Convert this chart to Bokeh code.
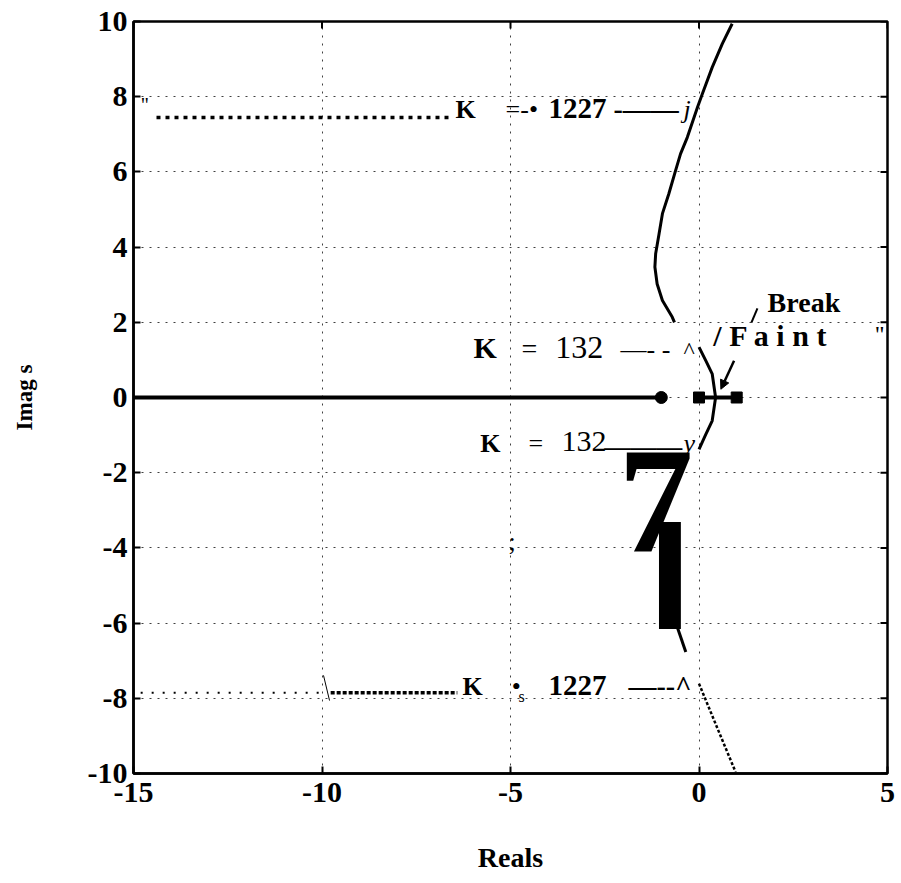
import math
from bokeh.plotting import figure
from bokeh.models import Label, Arrow, NormalHead, FixedTicker
from bokeh.embed import file_html
from bokeh.resources import INLINE

# ---- data ----
x_ticks = [-15, -10, -5, 0, 5]
x_tick_labels = ["-15", "-10", "-5", "0", "5"]
y_ticks = [-10, -8, -6, -4, -2, 0, 2, 4, 6, 8, 10]
y_tick_labels = ["-10", "-8", "-6", "-4", "-2", "0", "2", "4", "6", "8", "10"]

real_locus_left_x = [-15, -1]
real_locus_right_x = [0, 1]
pole_circle_x = [-1]
pole_square_x = [0, 1]

upper_branch_x = [0.88, 0.62, 0.35, 0.09, -0.04, -0.31, -0.49, -0.62, -0.80, -0.97, -1.06, -1.15, -1.17, -1.11, -0.97, -0.71, -0.65]
upper_branch_y = [9.94, 9.41, 8.78, 8.08, 7.72, 6.92, 6.48, 6.04, 5.42, 4.89, 4.35, 3.82, 3.47, 3.02, 2.58, 2.14, 2.00]
break_branch_x = [0.0, 0.18, 0.35, 0.44, 0.35, 0.18, 0.0]
break_branch_y = [1.34, 0.98, 0.63, 0.0, -0.62, -0.98, -1.38]
lower_mid_x = [-0.62, -0.35]
lower_mid_y = [-5.98, -6.77]
lower_branch_x = [0.0, 0.44, 0.97]
lower_branch_y = [-7.61, -8.68, -9.96]

top_leader_x = [-14.39, -6.59]
top_leader_y = [7.45, 7.45]
bottom_leader_sparse_x = [-14.81, -9.91]
bottom_leader_dense_x = [-9.77, -6.41]
bottom_leader_y = [-7.85, -7.85]

SERIF = "Liberation Serif"
PX_PER_Y = 37.6

p = figure(width=901, height=883, x_range=(-15, 5), y_range=(-10, 10),
           output_backend="svg", toolbar_location=None,
           min_border_left=133, min_border_right=14, min_border_top=21, min_border_bottom=110)
p.background_fill_color = "white"
p.border_fill_color = "white"
p.outline_line_color = "black"
p.outline_line_width = 2.5

# axes
for ax in (p.xaxis[0], p.yaxis[0]):
    ax.major_label_text_font = SERIF
    ax.major_label_text_font_style = "bold"
    ax.major_label_text_font_size = "30px"
    ax.major_label_text_color = "black"
    ax.axis_line_color = "black"
    ax.axis_line_width = 2.5
    ax.major_tick_in = 7
    ax.major_tick_out = 0
    ax.major_tick_line_width = 2
    ax.major_tick_line_color = "black"
    ax.minor_tick_line_color = None
    ax.axis_label_text_font = SERIF
    ax.axis_label_text_font_style = "bold"
    ax.axis_label_text_color = "black"

p.xaxis[0].ticker = FixedTicker(ticks=x_ticks)
p.xaxis[0].major_label_overrides = {t: s for t, s in zip(x_ticks, x_tick_labels)}
p.xaxis[0].major_label_standoff = 9
p.xaxis[0].axis_label = "Reals"
p.xaxis[0].axis_label_text_font_size = "28px"
p.xaxis[0].axis_label_standoff = 37

p.yaxis[0].ticker = FixedTicker(ticks=y_ticks)
p.yaxis[0].major_label_overrides = {t: s for t, s in zip(y_ticks, y_tick_labels)}
p.yaxis[0].major_label_standoff = 6
p.yaxis[0].axis_label = "Imag s"
p.yaxis[0].axis_label_text_font_size = "23px"
p.yaxis[0].axis_label_standoff = 48

# inner ticks on the right and top frame edges (half of each dash is clipped by the frame)
p.scatter([x_ticks[-1]] * len(y_ticks), y_ticks, marker="dash", size=14,
          line_color="black", line_width=2)
p.scatter(x_ticks, [y_ticks[-1]] * len(x_ticks), marker="dash", angle=math.pi / 2, size=14,
          line_color="black", line_width=2)

# grid
p.xgrid.ticker = FixedTicker(ticks=x_ticks)
p.ygrid.ticker = FixedTicker(ticks=y_ticks)
for g in (p.xgrid[0], p.ygrid[0]):
    g.grid_line_color = "black"
    g.grid_line_dash = "2 6"
    g.grid_line_width = 1
    g.grid_line_alpha = 0.75

# real-axis locus
p.line(real_locus_left_x, [0, 0], line_color="black", line_width=4)
p.line(real_locus_right_x, [0, 0], line_color="black", line_width=4)
p.scatter(pole_circle_x, [0], marker="circle", size=12, fill_color="black", line_color="black")
p.scatter(pole_square_x, [0, 0], marker="square", size=11, fill_color="black", line_color="black")

# complex branches
p.line(upper_branch_x, upper_branch_y, line_color="black", line_width=3, line_join="round")
p.line(break_branch_x, break_branch_y, line_color="black", line_width=3, line_join="round")
p.line(lower_mid_x, lower_mid_y, line_color="black", line_width=3)
p.line(lower_branch_x, lower_branch_y, line_color="black", line_width=2.5, line_dash="3 2")

# leaders
p.line(top_leader_x, top_leader_y, line_color="black", line_width=3.5, line_dash="4 5")
p.line(bottom_leader_sparse_x, bottom_leader_y, line_color="black", line_width=2, line_dash="2 9")
p.line(bottom_leader_dense_x, bottom_leader_y, line_color="black", line_width=3.5, line_dash="4 2")
p.line([-9.96, -9.80], [-7.39, -8.06], line_color="black", line_width=1)
p.line([1.55, 1.39], [2.37, 1.99], line_color="black", line_width=2)
p.add_layout(Arrow(end=NormalHead(size=9, fill_color="black", line_color="black"),
                   x_start=0.93, y_start=0.98, x_end=0.58, y_end=0.22,
                   line_color="black", line_width=2.5))


def lab(text, x, y, size, bold=False, italic=False, font=SERIF):
    style = "bold italic" if (bold and italic) else ("bold" if bold else ("italic" if italic else "normal"))
    # raise so that the glyph baseline sits at y
    y_adj = y + 0.35 * size / PX_PER_Y
    p.add_layout(Label(x=x, y=y_adj, text=text, text_font=font, text_font_style=style,
                       text_font_size=f"{size}px", text_color="black",
                       text_align="left", text_baseline="alphabetic"))


# row K = 1227 (top)
lab('"', -14.81, 7.60, 20)
lab("K", -6.46, 7.42, 26, bold=True)
lab("=-•", -5.13, 7.42, 26)
lab("1227", -3.99, 7.42, 29, bold=True)
lab("-——", -2.27, 7.42, 28, bold=True)
lab("j", -0.41, 7.42, 26, italic=True)

# row K = 132 (upper)
lab("K", -5.98, 1.04, 30, bold=True)
lab("=", -4.71, 1.04, 28)
lab("132", -3.81, 1.04, 32)
lab("—- -", -2.08, 1.04, 26)
lab("^", -0.41, 1.04, 24)
lab("Break", 1.82, 2.26, 28, bold=True)
lab("/ F a i n t", 0.38, 1.38, 30, bold=True)
lab('"', 4.66, 1.46, 24)

# row K = 132 (lower)
lab("K", -5.80, -1.46, 26, bold=True)
lab("=", -4.52, -1.46, 26)
lab("132", -3.65, -1.46, 30)
lab("———", -2.51, -1.54, 26, bold=True)
lab("y", -0.41, -1.46, 26, italic=True)

lab(";", -5.05, -4.07, 26)
lab("7", -2.14, -4.15, 150, bold=True)
lab("I", -1.35, -6.20, 150, bold=True, font="Roboto")

# row K = 1227 (bottom)
lab("K", -6.27, -7.93, 26, bold=True)
lab("•", -4.97, -7.93, 26)
lab("s", -4.79, -8.11, 16)
lab("1227", -3.99, -7.93, 29, bold=True)
lab("—--^", -1.87, -7.93, 28, bold=True)

open("out.html", "w").write(file_html(p, INLINE))
